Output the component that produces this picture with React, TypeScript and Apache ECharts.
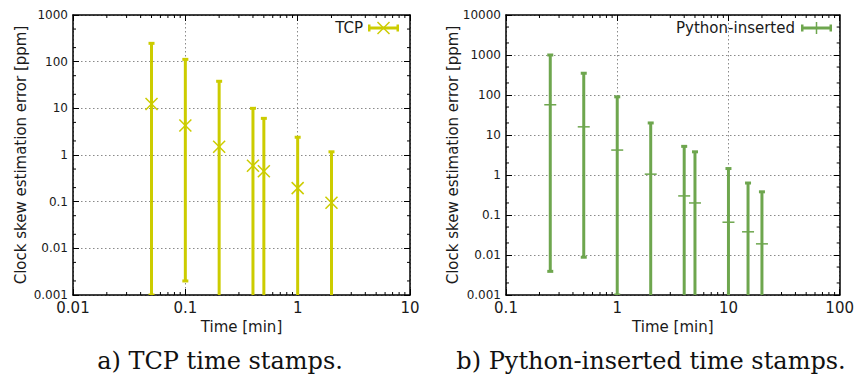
import React, { useEffect, useRef } from "react";
import * as echarts from "echarts";

// ---------- Data ----------
// Left panel: TCP time stamps
const tcpTime = [0.05, 0.1, 0.2, 0.4, 0.5, 1, 2];
const tcpCenter = [12.4, 4.3, 1.5, 0.59, 0.45, 0.195, 0.095];
const tcpHigh = [247, 112, 38, 10, 6.1, 2.4, 1.17];
const tcpLow = [0.001, 0.002, 0.0001, 0.0001, 0.0001, 0.0001, 0.0001];

// Right panel: Python-inserted time stamps
const pyTime = [0.25, 0.5, 1, 2, 4, 5, 10, 15, 20];
const pyCenter = [57, 16, 4.2, 1.05, 0.3, 0.2, 0.066, 0.038, 0.019];
const pyHigh = [1000, 350, 90, 20, 5.2, 3.8, 1.45, 0.63, 0.38];
const pyLow = [0.0039, 0.0088, 0.001, 0.0001, 0.0001, 0.0001, 0.0001, 0.0001, 0.0001];

// Tick labels
const xTicksA = ["0.01", "0.1", "1", "10"];
const yTicksA = ["0.001", "0.01", "0.1", "1", "10", "100", "1000"];
const xTicksB = ["0.1", "1", "10", "100"];
const yTicksB = ["0.001", "0.01", "0.1", "1", "10", "100", "1000", "10000"];

const xRangeA = [0.01, 10];
const yRangeA = [0.001, 1000];
const xRangeB = [0.1, 100];
const yRangeB = [0.001, 10000];

const xMinorMult = [2, 3, 4, 5, 6, 7, 8, 9];
const yMinorMult = [2, 5];

const COLOR_TCP = "#cccc00";
const COLOR_PY = "#6ea64e";
const FONT = "DejaVu Sans";
const TXT = "#1a1a1a";

function minorValues(range: number[], mult: number[]) {
  const out: number[] = [];
  const e0 = Math.round(Math.log10(range[0]));
  const e1 = Math.round(Math.log10(range[1]));
  for (let e = e0; e < e1; e++) {
    for (const m of mult) out.push(m * Math.pow(10, e));
  }
  return out;
}

function labelFmt(labels: string[], min: number) {
  const e0 = Math.round(Math.log10(min));
  return (v: number) => {
    const i = Math.round(Math.log10(v)) - e0;
    return labels[i] ?? "";
  };
}

export default function App() {
  const ref = useRef<HTMLDivElement>(null);

  useEffect(() => {
    if (!ref.current) return;
    const chart = echarts.init(ref.current, null, { renderer: "svg" });

    const grids = [
      { left: 73, top: 15, width: 337, height: 280 },
      { left: 506, top: 15, width: 336, height: 280 },
    ];

    const borderLine = { show: true, onZero: false, lineStyle: { color: "#000", width: 1.5 } };
    const majorTick = { show: true, inside: true, length: 6, lineStyle: { color: "#000", width: 1 } };
    const splitDotted = { show: true, lineStyle: { color: "#8a8a8a", width: 1, type: [1.5, 2.5] } };

    const mkX = (gi: number, range: number[], labels: string[]) => [
      {
        type: "log",
        logBase: 10,
        gridIndex: gi,
        min: range[0],
        max: range[1],
        position: "bottom",
        axisLine: borderLine,
        axisTick: majorTick,
        splitLine: splitDotted,
        axisLabel: {
          show: true,
          fontFamily: FONT,
          fontSize: 15,
          color: TXT,
          margin: 5,
          formatter: labelFmt(labels, range[0]),
        },
        name: "Time [min]",
        nameLocation: "middle",
        nameGap: 24,
        nameTextStyle: { fontFamily: FONT, fontSize: 15, color: TXT },
      },
      {
        type: "log",
        logBase: 10,
        gridIndex: gi,
        min: range[0],
        max: range[1],
        position: "top",
        axisLine: borderLine,
        axisTick: majorTick,
        splitLine: { show: false },
        axisLabel: { show: false },
      },
    ];
    const mkY = (gi: number, range: number[], labels: string[]) => [
      {
        type: "log",
        logBase: 10,
        gridIndex: gi,
        min: range[0],
        max: range[1],
        position: "left",
        axisLine: borderLine,
        axisTick: majorTick,
        splitLine: splitDotted,
        axisLabel: {
          show: true,
          fontFamily: FONT,
          fontSize: 12,
          color: TXT,
          margin: 5,
          formatter: labelFmt(labels, range[0]),
        },
      },
      {
        type: "log",
        logBase: 10,
        gridIndex: gi,
        min: range[0],
        max: range[1],
        position: "right",
        axisLine: borderLine,
        axisTick: majorTick,
        splitLine: { show: false },
        axisLabel: { show: false },
      },
    ];

    const errorSeries = (
      xi: number,
      yi: number,
      t: number[],
      lo: number[],
      hi: number[],
      c: number[],
      color: string,
      marker: "x" | "dash",
      yMin: number
    ) => ({
      type: "custom",
      xAxisIndex: xi,
      yAxisIndex: yi,
      clip: true,
      silent: true,
      data: t.map((x, i) => [x, lo[i], hi[i], c[i]]),
      renderItem: (params: any, api: any) => {
        const x = api.value(0);
        const l = api.value(1);
        const h = api.value(2);
        const cv = api.value(3);
        const pH = api.coord([x, h]);
        const pL = api.coord([x, l]);
        const pC = api.coord([x, cv]);
        const children: any[] = [
          {
            type: "line",
            shape: { x1: pH[0], y1: pH[1], x2: pL[0], y2: pL[1] },
            style: { stroke: color, lineWidth: 3 },
          },
          {
            type: "rect",
            shape: { x: pH[0] - 3, y: pH[1] - 1.5, width: 6, height: 3 },
            style: { fill: color },
          },
        ];
        if (l >= yMin) {
          children.push({
            type: "rect",
            shape: { x: pL[0] - 3, y: pL[1] - 1.5, width: 6, height: 3 },
            style: { fill: color },
          });
        }
        if (marker === "x") {
          const s = 6;
          children.push(
            {
              type: "line",
              shape: { x1: pC[0] - s, y1: pC[1] - s, x2: pC[0] + s, y2: pC[1] + s },
              style: { stroke: color, lineWidth: 1.5 },
            },
            {
              type: "line",
              shape: { x1: pC[0] - s, y1: pC[1] + s, x2: pC[0] + s, y2: pC[1] - s },
              style: { stroke: color, lineWidth: 1.5 },
            }
          );
        } else {
          children.push({
            type: "line",
            shape: { x1: pC[0] - 6, y1: pC[1], x2: pC[0] + 6, y2: pC[1] },
            style: { stroke: color, lineWidth: 1.5 },
          });
        }
        return { type: "group", children };
      },
    });

    const minorX = (xi: number, yi: number, range: number[], yRange: number[]) => ({
      type: "custom",
      xAxisIndex: xi,
      yAxisIndex: yi,
      clip: false,
      silent: true,
      data: minorValues(range, xMinorMult).map((v) => [v, yRange[0]]),
      renderItem: (params: any, api: any) => {
        const cs = params.coordSys;
        const p = api.coord([api.value(0), api.value(1)]);
        const yb = cs.y + cs.height;
        return {
          type: "group",
          children: [
            { type: "line", shape: { x1: p[0], y1: yb, x2: p[0], y2: yb - 3 }, style: { stroke: "#000", lineWidth: 1 } },
            { type: "line", shape: { x1: p[0], y1: cs.y, x2: p[0], y2: cs.y + 3 }, style: { stroke: "#000", lineWidth: 1 } },
          ],
        };
      },
    });
    const minorY = (xi: number, yi: number, range: number[], xRange: number[]) => ({
      type: "custom",
      xAxisIndex: xi,
      yAxisIndex: yi,
      clip: false,
      silent: true,
      data: minorValues(range, yMinorMult).map((v) => [xRange[0], v]),
      renderItem: (params: any, api: any) => {
        const cs = params.coordSys;
        const p = api.coord([api.value(0), api.value(1)]);
        const xr = cs.x + cs.width;
        return {
          type: "group",
          children: [
            { type: "line", shape: { x1: cs.x, y1: p[1], x2: cs.x + 3, y2: p[1] }, style: { stroke: "#000", lineWidth: 1 } },
            { type: "line", shape: { x1: xr, y1: p[1], x2: xr - 3, y2: p[1] }, style: { stroke: "#000", lineWidth: 1 } },
          ],
        };
      },
    });

    const legendGroup = (textRight: number, label: string, lx1: number, lx2: number, y: number, color: string, marker: "x" | "plus") => {
      const cx = (lx1 + lx2) / 2;
      const children: any[] = [
        {
          type: "text",
          x: textRight,
          y,
          style: { text: label, fontFamily: FONT, fontSize: 15, fill: TXT, align: "right", verticalAlign: "middle" },
        },
        { type: "line", shape: { x1: lx1, y1: y, x2: lx2, y2: y }, style: { stroke: color, lineWidth: 3 } },
        { type: "rect", shape: { x: lx1, y: y - 3.5, width: 2.5, height: 7 }, style: { fill: color } },
        { type: "rect", shape: { x: lx2 - 2.5, y: y - 3.5, width: 2.5, height: 7 }, style: { fill: color } },
      ];
      if (marker === "x") {
        children.push(
          { type: "line", shape: { x1: cx - 6, y1: y - 6, x2: cx + 6, y2: y + 6 }, style: { stroke: color, lineWidth: 1.5 } },
          { type: "line", shape: { x1: cx - 6, y1: y + 6, x2: cx + 6, y2: y - 6 }, style: { stroke: color, lineWidth: 1.5 } }
        );
      } else {
        children.push({ type: "line", shape: { x1: cx, y1: y - 6, x2: cx, y2: y + 6 }, style: { stroke: color, lineWidth: 1.5 } });
      }
      return { type: "group", children };
    };

    const yName = "Clock skew estimation error [ppm]";

    chart.setOption({
      animation: false,
      grid: grids,
      xAxis: [...mkX(0, xRangeA, xTicksA), ...mkX(1, xRangeB, xTicksB)],
      yAxis: [...mkY(0, yRangeA, yTicksA), ...mkY(1, yRangeB, yTicksB)],
      series: [
        minorX(0, 0, xRangeA, yRangeA),
        minorY(0, 0, yRangeA, xRangeA),
        minorX(2, 2, xRangeB, yRangeB),
        minorY(2, 2, yRangeB, xRangeB),
        errorSeries(0, 0, tcpTime, tcpLow, tcpHigh, tcpCenter, COLOR_TCP, "x", yRangeA[0]),
        errorSeries(2, 2, pyTime, pyLow, pyHigh, pyCenter, COLOR_PY, "dash", yRangeB[0]),
      ],
      graphic: [
        {
          type: "text",
          x: 21,
          y: 155,
          rotation: Math.PI / 2,
          style: { text: yName, fontFamily: FONT, fontSize: 15, fill: TXT, align: "center", verticalAlign: "middle" },
        },
        {
          type: "text",
          x: 453,
          y: 155,
          rotation: Math.PI / 2,
          style: { text: yName, fontFamily: FONT, fontSize: 15, fill: TXT, align: "center", verticalAlign: "middle" },
        },
        legendGroup(363, "TCP", 368, 399, 28, COLOR_TCP, "x"),
        legendGroup(795, "Python-inserted", 801, 832, 28, COLOR_PY, "plus"),
        {
          type: "text",
          x: 220,
          y: 361,
          style: { text: "a) TCP time stamps.", fontFamily: "DejaVu Serif", fontSize: 24, fill: "#111", align: "center", verticalAlign: "middle" },
        },
        {
          type: "text",
          x: 651,
          y: 361,
          style: { text: "b) Python-inserted time stamps.", fontFamily: "DejaVu Serif", fontSize: 24, fill: "#111", align: "center", verticalAlign: "middle" },
        },
      ],
    });

    return () => chart.dispose();
  }, []);

  return (
    <div
      ref={ref}
      style={{ position: "absolute", left: 0, top: 0, width: 857, height: 378, background: "#fff" }}
    />
  );
}
